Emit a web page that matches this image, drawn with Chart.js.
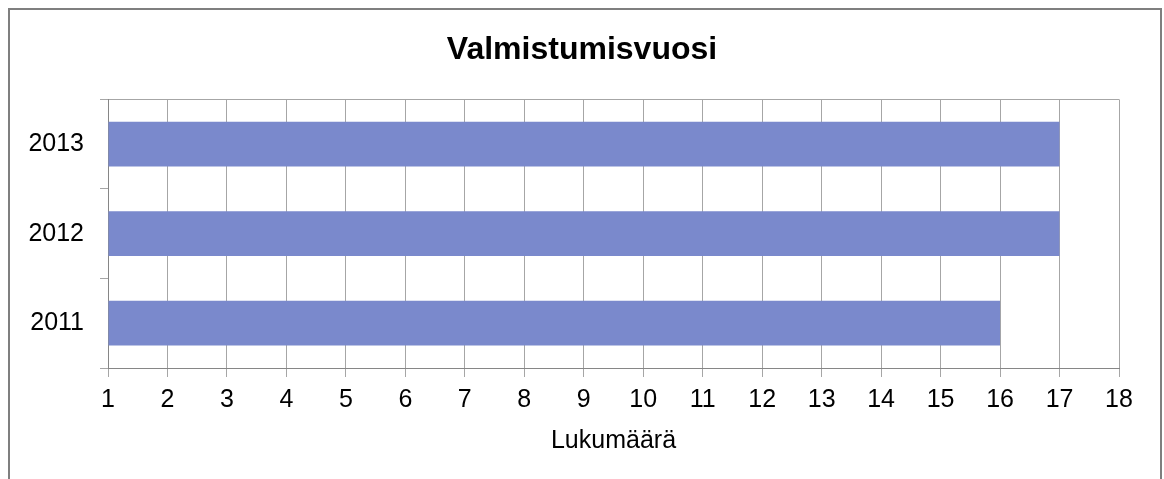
<!DOCTYPE html>
<html>
<head>
<meta charset="utf-8">
<script src="https://cdn.jsdelivr.net/npm/chart.js@4.4.1/dist/chart.umd.min.js"></script>
<style>
  body { margin: 0; background: #fff; }
  #frame {
    position: absolute; left: 8px; top: 8px;
    width: 1150px; height: 490px;
    border: 2px solid #7f7f7f;
  }
  #wrap { position: absolute; left: 0; top: 0; width: 1164px; height: 479px; }
</style>
</head>
<body>
<div id="frame"></div>
<div id="wrap"><canvas id="myChart" width="1164" height="479"></canvas></div>
<script>
// valmistumisvuodet ja lukumäärät
const years = ['2013', '2012', '2011'];
const counts = [17, 17, 16];
const xMin = 1;
const xMax = 18;

const gridGray = '#a6a6a6';
const axisGray = '#868686';

const data = {
    labels: years,
    datasets: [{
        label: 'Lukumäärä',
        data: counts,
        base: xMin,
        backgroundColor: '#7a89cc',
        borderWidth: 0,
        barPercentage: 0.5,
        categoryPercentage: 1
    }]
};

const ctx = document.getElementById('myChart').getContext('2d');

const myChart = new Chart(ctx, {
    type: 'bar',
    data: data,
    options: {
        indexAxis: 'y',
        responsive: false,
        animation: false,
        layout: {
            padding: 0
        },
        plugins: {
            legend: { display: false },
            tooltip: { enabled: false },
            title: {
                display: true,
                text: 'Valmistumisvuosi',
                color: '#000',
                font: { family: 'Liberation Sans', size: 32, weight: 'bold' },
                padding: { top: 31, bottom: 30 }
            }
        },
        scales: {
            x: {
                min: xMin,
                max: xMax,
                ticks: {
                    stepSize: 1,
                    color: '#000',
                    padding: 8,
                    font: { family: 'Liberation Sans', size: 25 }
                },
                grid: {
                    color: gridGray,
                    tickColor: gridGray,
                    tickLength: 9,
                    lineWidth: 1
                },
                border: { color: axisGray, width: 1 },
                title: {
                    display: true,
                    text: 'Lukumäärä',
                    color: '#000',
                    font: { family: 'Liberation Sans', size: 25 },
                    padding: { top: 0, bottom: 23 }
                },
                afterFit: function (scale) { scale.height = 111; }
            },
            y: {
                ticks: {
                    color: '#000',
                    padding: 16,
                    font: { family: 'Liberation Sans', size: 25 }
                },
                grid: {
                    offset: true,
                    tickLength: 8,
                    tickColor: gridGray,
                    // only the top line of the plot box is drawn across
                    color: function (c) { return c.index === 0 ? gridGray : 'rgba(0,0,0,0)'; }
                },
                border: { color: axisGray, width: 1 },
                afterFit: function (scale) { scale.width = 108; }
            },
            // empty right axis, just keeps space on the right so the title stays centred
            y2: {
                position: 'right',
                display: true,
                grid: { display: false },
                border: { display: false },
                ticks: { display: false },
                afterFit: function (scale) { scale.width = 45; }
            }
        }
    }
});
</script>
</body>
</html>
